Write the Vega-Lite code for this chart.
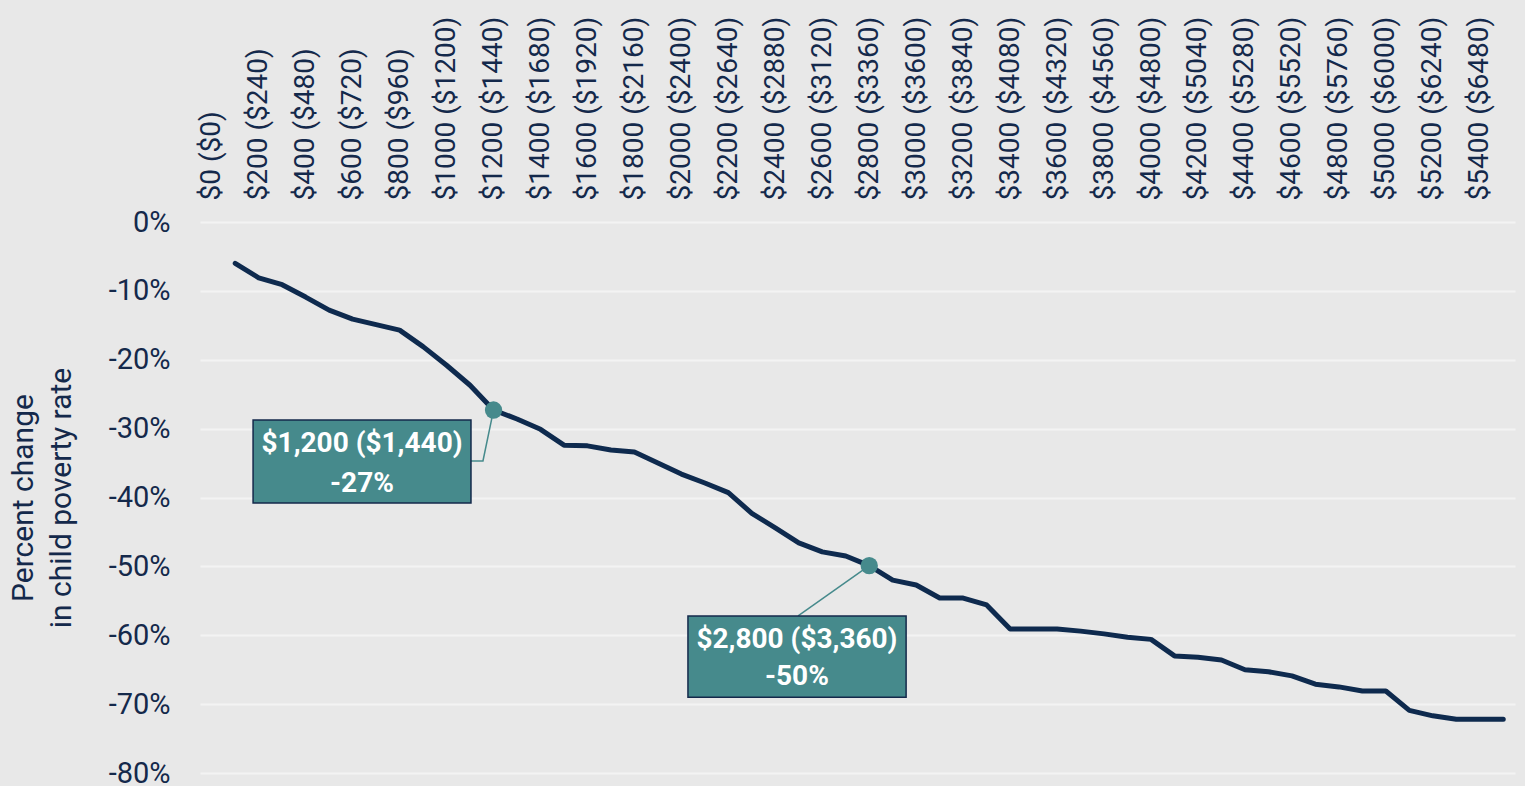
{
  "$schema": "https://vega.github.io/schema/vega-lite/v6.json",
  "width": 1315,
  "height": 551,
  "autosize": {"type": "none"},
  "padding": {"left": 200, "top": 222, "right": 10, "bottom": 13},
  "background": "#E8E8E8",
  "config": {
    "view": {"stroke": null, "fill": "#E8E8E8"},
    "font": "Roboto",
    "axis": {"labelFont": "Roboto", "titleFont": "Roboto", "labelColor": "#14294B", "titleColor": "#14294B"}
  },
  "datasets": {
    "series": [
      {"amount": 100, "change": -0.060},
      {"amount": 200, "change": -0.081},
      {"amount": 300, "change": -0.091},
      {"amount": 400, "change": -0.109},
      {"amount": 500, "change": -0.128},
      {"amount": 600, "change": -0.141},
      {"amount": 700, "change": -0.149},
      {"amount": 800, "change": -0.157},
      {"amount": 900, "change": -0.181},
      {"amount": 1000, "change": -0.208},
      {"amount": 1100, "change": -0.237},
      {"amount": 1200, "change": -0.273},
      {"amount": 1300, "change": -0.286},
      {"amount": 1400, "change": -0.301},
      {"amount": 1500, "change": -0.324},
      {"amount": 1600, "change": -0.325},
      {"amount": 1700, "change": -0.331},
      {"amount": 1800, "change": -0.334},
      {"amount": 1900, "change": -0.350},
      {"amount": 2000, "change": -0.366},
      {"amount": 2100, "change": -0.379},
      {"amount": 2200, "change": -0.393},
      {"amount": 2300, "change": -0.423},
      {"amount": 2400, "change": -0.444},
      {"amount": 2500, "change": -0.466},
      {"amount": 2600, "change": -0.479},
      {"amount": 2700, "change": -0.485},
      {"amount": 2800, "change": -0.499},
      {"amount": 2900, "change": -0.520},
      {"amount": 3000, "change": -0.527},
      {"amount": 3100, "change": -0.546},
      {"amount": 3200, "change": -0.546},
      {"amount": 3300, "change": -0.556},
      {"amount": 3400, "change": -0.591},
      {"amount": 3500, "change": -0.591},
      {"amount": 3600, "change": -0.591},
      {"amount": 3700, "change": -0.594},
      {"amount": 3800, "change": -0.598},
      {"amount": 3900, "change": -0.603},
      {"amount": 4000, "change": -0.606},
      {"amount": 4100, "change": -0.630},
      {"amount": 4200, "change": -0.632},
      {"amount": 4300, "change": -0.636},
      {"amount": 4400, "change": -0.650},
      {"amount": 4500, "change": -0.653},
      {"amount": 4600, "change": -0.659},
      {"amount": 4700, "change": -0.671},
      {"amount": 4800, "change": -0.675},
      {"amount": 4900, "change": -0.681},
      {"amount": 5000, "change": -0.681},
      {"amount": 5100, "change": -0.709},
      {"amount": 5200, "change": -0.717},
      {"amount": 5300, "change": -0.722},
      {"amount": 5400, "change": -0.722},
      {"amount": 5500, "change": -0.722}
    ],
    "highlights": [
      {"amount": 1200, "change": -0.273},
      {"amount": 2800, "change": -0.499}
    ],
    "connectors": [
      {"group": "a", "seq": 1, "amount": 1200, "change": -0.273},
      {"group": "a", "seq": 2, "amount": 1155, "change": -0.347},
      {"group": "a", "seq": 3, "amount": 1104, "change": -0.347},
      {"group": "b", "seq": 1, "amount": 2800, "change": -0.499},
      {"group": "b", "seq": 2, "amount": 2497, "change": -0.572}
    ],
    "boxes": [
      {"x1": 176, "x2": 1104, "y1": -0.2875, "y2": -0.408},
      {"x1": 2028, "x2": 2957, "y1": -0.572, "y2": -0.690}
    ],
    "boxText": [
      {"cx": 640, "cy": -0.3223, "text": "$1,200 ($1,440)"},
      {"cx": 640, "cy": -0.3797, "text": "-27%"},
      {"cx": 2492, "cy": -0.6069, "text": "$2,800 ($3,360)"},
      {"cx": 2492, "cy": -0.6606, "text": "-50%"}
    ]
  },
  "layer": [
    {
      "data": {"name": "series"},
      "mark": {"type": "line", "color": "#0E2A4E", "strokeWidth": 5, "strokeCap": "round", "strokeJoin": "round"},
      "encoding": {
        "x": {
          "field": "amount", "type": "quantitative",
          "scale": {"domain": [-50, 5550], "nice": false, "zero": false},
          "axis": {
            "orient": "top", "title": null, "grid": false, "domain": false, "ticks": false,
            "values": [0, 200, 400, 600, 800, 1000, 1200, 1400, 1600, 1800, 2000, 2200, 2400, 2600, 2800, 3000, 3200, 3400, 3600, 3800, 4000, 4200, 4400, 4600, 4800, 5000, 5200, 5400],
            "labelExpr": "'$' + datum.value + ' ($' + round(datum.value * 1.2) + ')'",
            "labelAngle": -90, "labelAlign": "left", "labelBaseline": "middle", "labelLimit": 400,
            "labelFontSize": 28, "labelPadding": 22, "labelOverlap": false, "labelBound": false, "labelFlush": false
          }
        },
        "y": {
          "field": "change", "type": "quantitative",
          "scale": {"domain": [-0.8, 0], "nice": false},
          "axis": {
            "title": ["Percent change", "in child poverty rate"],
            "titleFontSize": 30, "titleFontWeight": "normal", "titlePadding": 32, "titleLineHeight": 38,
            "values": [-0.8, -0.7, -0.6, -0.5, -0.4, -0.3, -0.2, -0.1, 0],
            "labelExpr": "(datum.value < -0.0001 ? '-' : '') + round(abs(datum.value) * 100) + '%'",
            "labelFontSize": 29, "labelPadding": 30, "ticks": false, "domain": false,
            "grid": true, "gridColor": "#F3F3F3", "gridWidth": 2
          }
        }
      }
    },
    {
      "data": {"name": "connectors"},
      "mark": {"type": "line", "color": "#468A8C", "strokeWidth": 1.5},
      "encoding": {
        "x": {"field": "amount", "type": "quantitative"},
        "y": {"field": "change", "type": "quantitative"},
        "detail": {"field": "group"},
        "order": {"field": "seq"}
      }
    },
    {
      "data": {"name": "highlights"},
      "mark": {"type": "circle", "color": "#468A8C", "opacity": 1, "size": 300},
      "encoding": {
        "x": {"field": "amount", "type": "quantitative"},
        "y": {"field": "change", "type": "quantitative"}
      }
    },
    {
      "data": {"name": "boxes"},
      "mark": {"type": "rect", "fill": "#468A8C", "stroke": "#14294B", "strokeWidth": 1.5},
      "encoding": {
        "x": {"field": "x1", "type": "quantitative"},
        "x2": {"field": "x2"},
        "y": {"field": "y1", "type": "quantitative"},
        "y2": {"field": "y2"}
      }
    },
    {
      "data": {"name": "boxText"},
      "mark": {"type": "text", "color": "white", "font": "Roboto", "fontWeight": "bold", "fontSize": 28, "align": "center", "baseline": "middle"},
      "encoding": {
        "x": {"field": "cx", "type": "quantitative"},
        "y": {"field": "cy", "type": "quantitative"},
        "text": {"field": "text"}
      }
    }
  ]
}
